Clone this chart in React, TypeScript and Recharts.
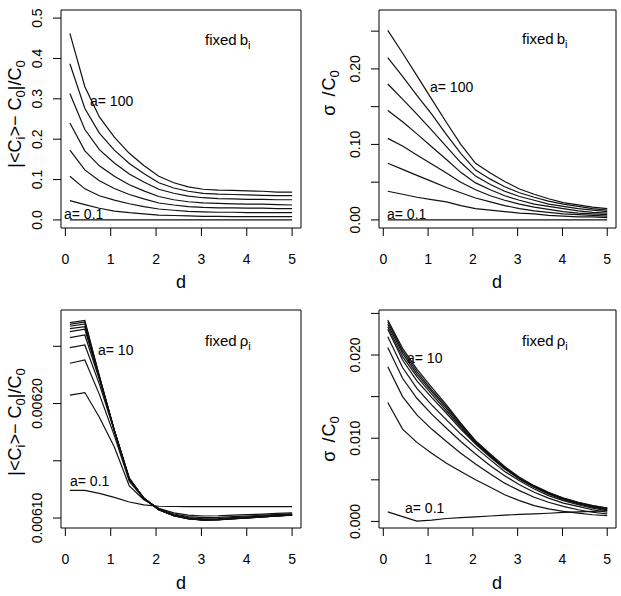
import React from "react";
import { LineChart, Line, XAxis, YAxis, ReferenceArea } from "recharts";

// distance grid shared by all four panels
const dGrid = [0.1, 0.43, 0.75, 1.08, 1.41, 1.73, 2.06, 2.39, 2.71, 3.04, 3.37, 3.69, 4.02, 4.35, 4.67, 5.0];
const dTicks = [0, 1, 2, 3, 4, 5];
const xDomain: [number, number] = [-0.096, 5.196];

// top left: |<C_i> - C_0| / C_0, fixed b_i  (a = 100 ... a = 0.1)
const biasFixedB = [
  [0.462, 0.33, 0.255, 0.205, 0.165, 0.135, 0.108, 0.092, 0.082, 0.076, 0.074, 0.073, 0.072, 0.071, 0.069, 0.069],
  [0.387, 0.276, 0.215, 0.173, 0.14, 0.115, 0.092, 0.079, 0.071, 0.066, 0.064, 0.063, 0.062, 0.061, 0.06, 0.06],
  [0.313, 0.224, 0.174, 0.141, 0.114, 0.094, 0.076, 0.066, 0.059, 0.055, 0.053, 0.052, 0.051, 0.051, 0.05, 0.05],
  [0.24, 0.171, 0.134, 0.108, 0.087, 0.072, 0.058, 0.05, 0.045, 0.042, 0.041, 0.04, 0.039, 0.039, 0.038, 0.037],
  [0.173, 0.124, 0.097, 0.078, 0.063, 0.052, 0.042, 0.037, 0.033, 0.031, 0.03, 0.03, 0.029, 0.029, 0.028, 0.028],
  [0.108, 0.077, 0.06, 0.049, 0.04, 0.033, 0.027, 0.024, 0.021, 0.02, 0.019, 0.019, 0.018, 0.018, 0.018, 0.018],
  [0.048, 0.038, 0.029, 0.022, 0.018, 0.015, 0.012, 0.011, 0.01, 0.009, 0.009, 0.008, 0.008, 0.008, 0.008, 0.008],
  [0, 0, 0, 0, 0, 0, 0, 0, 0, 0, 0, 0, 0, 0, 0, 0],
];

// top right: sigma / C_0, fixed b_i
const sigmaFixedB = [
  [0.251, 0.221, 0.191, 0.16, 0.129, 0.1, 0.075, 0.062, 0.051, 0.041, 0.034, 0.028, 0.023, 0.02, 0.017, 0.015],
  [0.215, 0.19, 0.165, 0.14, 0.113, 0.088, 0.066, 0.054, 0.044, 0.036, 0.03, 0.025, 0.021, 0.018, 0.015, 0.013],
  [0.18, 0.16, 0.14, 0.119, 0.097, 0.076, 0.058, 0.047, 0.038, 0.031, 0.026, 0.021, 0.018, 0.015, 0.013, 0.011],
  [0.145, 0.13, 0.114, 0.097, 0.08, 0.063, 0.049, 0.04, 0.032, 0.026, 0.021, 0.018, 0.015, 0.012, 0.01, 0.009],
  [0.108, 0.098, 0.086, 0.074, 0.062, 0.05, 0.04, 0.032, 0.026, 0.021, 0.017, 0.014, 0.011, 0.009, 0.008, 0.007],
  [0.075, 0.067, 0.059, 0.051, 0.043, 0.036, 0.029, 0.024, 0.019, 0.015, 0.012, 0.01, 0.008, 0.007, 0.006, 0.005],
  [0.038, 0.034, 0.03, 0.027, 0.024, 0.019, 0.015, 0.013, 0.011, 0.009, 0.008, 0.006, 0.005, 0.004, 0.004, 0.003],
  [0, 0, 0, 0, 0, 0, 0, 0, 0, 0, 0, 0, 0, 0, 0, 0],
];

// bottom left: |<C_i> - C_0| / C_0, fixed rho_i  (a = 10 ... a = 0.1)
const biasFixedRho = [
  [0.0062706, 0.0062727, 0.006224, 0.0061765, 0.0061336, 0.0061175, 0.0061072, 0.006102, 0.0060993, 0.0060982, 0.0060984, 0.0060992, 0.0061001, 0.0061009, 0.0061017, 0.0061025],
  [0.0062692, 0.0062712, 0.0062238, 0.0061765, 0.0061338, 0.0061175, 0.0061072, 0.006102, 0.0060994, 0.0060982, 0.0060985, 0.0060993, 0.0061002, 0.006101, 0.0061018, 0.0061026],
  [0.0062675, 0.0062695, 0.0062235, 0.0061765, 0.006134, 0.0061174, 0.0061073, 0.0061021, 0.0060994, 0.0060983, 0.0060986, 0.0060994, 0.0061002, 0.006101, 0.0061018, 0.0061027],
  [0.0062654, 0.0062671, 0.006223, 0.0061765, 0.0061342, 0.0061173, 0.0061073, 0.0061021, 0.0060995, 0.0060984, 0.0060987, 0.0060995, 0.0061003, 0.0061011, 0.0061019, 0.0061028],
  [0.0062628, 0.0062649, 0.0062225, 0.0061765, 0.0061345, 0.0061172, 0.0061074, 0.0061022, 0.0060996, 0.0060985, 0.0060988, 0.0060996, 0.0061004, 0.0061012, 0.006102, 0.0061029],
  [0.0062575, 0.0062599, 0.006221, 0.0061765, 0.006135, 0.006117, 0.0061075, 0.0061024, 0.0060998, 0.0060988, 0.006099, 0.0060998, 0.0061006, 0.0061014, 0.0061022, 0.006103],
  [0.0062488, 0.0062512, 0.006217, 0.006176, 0.006134, 0.006117, 0.0061078, 0.0061028, 0.0061003, 0.0060993, 0.0060995, 0.0061003, 0.006101, 0.0061018, 0.0061025, 0.0061032],
  [0.0062352, 0.0062381, 0.006208, 0.006172, 0.006132, 0.006117, 0.006108, 0.0061035, 0.0061012, 0.0061003, 0.0061005, 0.0061012, 0.0061018, 0.0061025, 0.006103, 0.0061037],
  [0.0062073, 0.0062096, 0.006188, 0.006162, 0.006128, 0.006116, 0.0061085, 0.0061045, 0.0061025, 0.0061018, 0.006102, 0.0061025, 0.006103, 0.0061035, 0.006104, 0.0061045],
  [0.0061242, 0.0061241, 0.0061215, 0.006118, 0.006114, 0.0061115, 0.0061103, 0.0061101, 0.00611, 0.00611, 0.00611, 0.00611, 0.00611, 0.00611, 0.00611, 0.00611],
];

// bottom right: sigma / C_0, fixed rho_i
const sigmaFixedRho = [
  [0.0242, 0.0208, 0.0183, 0.0161, 0.014, 0.0118, 0.0097, 0.0081, 0.0066, 0.0053, 0.0043, 0.0035, 0.0028, 0.0023, 0.0019, 0.0016],
  [0.024, 0.0205, 0.018, 0.0158, 0.0138, 0.0117, 0.0096, 0.008, 0.0065, 0.0052, 0.0042, 0.0034, 0.0028, 0.0023, 0.0019, 0.0016],
  [0.0237, 0.0202, 0.0177, 0.0156, 0.0136, 0.0115, 0.0095, 0.0079, 0.0064, 0.0052, 0.0042, 0.0034, 0.0027, 0.0022, 0.0018, 0.0015],
  [0.0234, 0.0198, 0.0174, 0.0153, 0.0133, 0.0113, 0.0094, 0.0078, 0.0064, 0.0051, 0.0041, 0.0033, 0.0027, 0.0022, 0.0018, 0.0015],
  [0.0231, 0.0194, 0.0169, 0.0149, 0.013, 0.0111, 0.0093, 0.0077, 0.0063, 0.0051, 0.0041, 0.0033, 0.0026, 0.0021, 0.0017, 0.0014],
  [0.0222, 0.0185, 0.016, 0.014, 0.0122, 0.0105, 0.0089, 0.0074, 0.006, 0.0049, 0.0039, 0.0031, 0.0025, 0.002, 0.0016, 0.0013],
  [0.0209, 0.0172, 0.0148, 0.0129, 0.0112, 0.0096, 0.0081, 0.0067, 0.0055, 0.0044, 0.0035, 0.0028, 0.0022, 0.0018, 0.0014, 0.0011],
  [0.0186, 0.015, 0.0128, 0.0111, 0.0096, 0.0082, 0.0069, 0.0057, 0.0046, 0.0037, 0.0029, 0.0023, 0.0018, 0.0014, 0.0011, 0.0009],
  [0.0143, 0.0111, 0.0095, 0.0082, 0.007, 0.006, 0.005, 0.0041, 0.0032, 0.0025, 0.0019, 0.0015, 0.0012, 0.001, 0.0008, 0.0007],
  [0.00115, 0.00058, 0.00003, 0.00015, 0.00035, 0.00045, 0.00055, 0.00065, 0.00075, 0.00085, 0.0009, 0.00098, 0.00108, 0.00115, 0.00122, 0.00128],
];

// y ticks; R drops labels that would overlap, so some are blank
const yTicksTL = [0, 0.1, 0.2, 0.3, 0.4, 0.5];
const yLabelsTL = ["0.0", "0.1", "0.2", "0.3", "0.4", "0.5"];
const yTicksTR = [0, 0.05, 0.1, 0.15, 0.2, 0.25];
const yLabelsTR = ["0.00", "", "0.10", "", "0.20", ""];
const yTicksBL = [0.0061, 0.00615, 0.0062, 0.00625];
const yLabelsBL = ["0.00610", "", "0.00620", ""];
const yTicksBR = [0, 0.005, 0.01, 0.015, 0.02, 0.025];
const yLabelsBR = ["0.000", "", "0.010", "", "0.020", ""];

const FONT = "'Liberation Sans', Arial, Helvetica, sans-serif";
const W = 310;
const H = 298;

const XTick = (p: any) => (
  <text x={p.x} y={p.y + 28} textAnchor="middle" fontSize={14} fill="#000">
    {p.payload.value}
  </text>
);

function makeYTick(ticks: number[], labels: string[]) {
  return (p: any) => {
    const label = labels[ticks.indexOf(p.payload.value)] || "";
    const bx = p.x - 11;
    return (
      <text x={bx} y={p.y} transform={`rotate(-90 ${bx} ${p.y})`} textAnchor="middle" fontSize={14} fill="#000">
        {label}
      </text>
    );
  };
}

function Panel(props: {
  left: number; top: number; series: number[][];
  yDomain: [number, number]; yTicks: number[]; yLabels: string[];
  boxLeft: number; boxTop: number; boxRight: number; boxBottom: number;
  children?: React.ReactNode;
}) {
  const { series, yDomain, yTicks, yLabels, boxLeft, boxTop, boxRight, boxBottom } = props;
  const data = dGrid.map((d, i) => {
    const row: Record<string, number> = { d };
    series.forEach((s, k) => { row["s" + k] = s[i]; });
    return row;
  });
  return (
    <div style={{ position: "absolute", left: props.left, top: props.top, width: W, height: H }}>
      <LineChart width={W} height={H} data={data} margin={{ top: boxTop, right: W - boxRight, bottom: 0, left: 0 }}>
        <XAxis dataKey="d" type="number" domain={xDomain} ticks={dTicks} interval={0}
          height={H - boxBottom} tickSize={8} tickMargin={0} axisLine={false}
          tickLine={{ stroke: "#000" }} tick={XTick} allowDataOverflow />
        <YAxis type="number" domain={yDomain} ticks={yTicks} interval={0} width={boxLeft}
          tickSize={8} tickMargin={0} axisLine={false} tickLine={{ stroke: "#000" }}
          tick={makeYTick(yTicks, yLabels)} allowDataOverflow />
        <ReferenceArea x1={xDomain[0]} x2={xDomain[1]} y1={yDomain[0]} y2={yDomain[1]}
          fill="none" stroke="#000" strokeWidth={1} ifOverflow="visible" />
        {series.map((_, k) => (
          <Line key={k} type="linear" dataKey={"s" + k} stroke="#111" strokeWidth={1.2}
            dot={false} activeDot={false} isAnimationActive={false} />
        ))}
      </LineChart>
      <svg width={W} height={H} style={{ position: "absolute", left: 0, top: 0, pointerEvents: "none" }}>
        {props.children}
      </svg>
    </div>
  );
}

const BiasTitle = ({ x, y }: { x: number; y: number }) => (
  <text x={x} y={y} transform={`rotate(-90 ${x} ${y})`} textAnchor="middle" fontSize={18} fill="#000">
    {"|<C"}
    <tspan dy={4} fontSize={13}>i</tspan>
    <tspan dy={-4}>{">\u2212 C"}</tspan>
    <tspan dy={4} fontSize={13}>0</tspan>
    <tspan dy={-4}>{"|/C"}</tspan>
    <tspan dy={4} fontSize={13}>0</tspan>
  </text>
);

const SigmaTitle = ({ x, y }: { x: number; y: number }) => (
  <text x={x} y={y} transform={`rotate(-90 ${x} ${y})`} textAnchor="middle" fontSize={18} fill="#000">
    {"\u03c3"}
    <tspan dx={8}>/</tspan>
    <tspan dx={1}>C</tspan>
    <tspan dy={4} fontSize={13}>0</tspan>
  </text>
);

const FixedNote = ({ x, y, sym }: { x: number; y: number; sym: string }) => (
  <text x={x} y={y} fontSize={15} fill="#000">
    fixed
    <tspan dx={3}>{sym}</tspan>
    <tspan dy={4} fontSize={11}>i</tspan>
  </text>
);

const Note = ({ x, y, t }: { x: number; y: number; t: string }) => (
  <text x={x} y={y} fontSize={14} fill="#000">{t}</text>
);

const DTitle = ({ x, y }: { x: number; y: number }) => (
  <text x={x} y={y} textAnchor="middle" fontSize={18} fill="#000">d</text>
);

export default function App() {
  return (
    <div style={{ position: "absolute", left: 0, top: 0, width: 621, height: 596, background: "#fff", fontFamily: FONT }}>
      <Panel left={0} top={0} series={biasFixedB} yDomain={[-0.02, 0.52]} yTicks={yTicksTL} yLabels={yLabelsTL}
        boxLeft={61} boxTop={10} boxRight={301} boxBottom={228}>
        <BiasTitle x={21} y={114} />
        <DTitle x={181} y={288} />
        <FixedNote x={205} y={45} sym="b" />
        <Note x={90} y={106} t="a= 100" />
        <Note x={64} y={219} t="a= 0.1" />
      </Panel>
      <Panel left={310} top={0} series={sigmaFixedB} yDomain={[-0.0107, 0.278]} yTicks={yTicksTR} yLabels={yLabelsTR}
        boxLeft={69} boxTop={10} boxRight={306} boxBottom={228}>
        <SigmaTitle x={25} y={93} />
        <DTitle x={187} y={288} />
        <FixedNote x={212} y={44} sym="b" />
        <Note x={120} y={92} t="a= 100" />
        <Note x={77} y={219} t="a= 0.1" />
      </Panel>
      <Panel left={0} top={298} series={biasFixedRho} yDomain={[0.0060913, 0.0062817]} yTicks={yTicksBL} yLabels={yLabelsBL}
        boxLeft={61} boxTop={12} boxRight={301} boxBottom={230}>
        <BiasTitle x={21} y={124} />
        <DTitle x={181} y={291} />
        <FixedNote x={205} y={48} sym={"\u03c1"} />
        <Note x={98} y={57} t="a= 10" />
        <Note x={70} y={188} t="a= 0.1" />
      </Panel>
      <Panel left={310} top={298} series={sigmaFixedRho} yDomain={[-0.00079, 0.02541]} yTicks={yTicksBR} yLabels={yLabelsBR}
        boxLeft={69} boxTop={12} boxRight={306} boxBottom={230}>
        <SigmaTitle x={25} y={141} />
        <DTitle x={187} y={291} />
        <FixedNote x={212} y={48} sym={"\u03c1"} />
        <Note x={97} y={65} t="a= 10" />
        <Note x={95} y={215} t="a= 0.1" />
      </Panel>
    </div>
  );
}
